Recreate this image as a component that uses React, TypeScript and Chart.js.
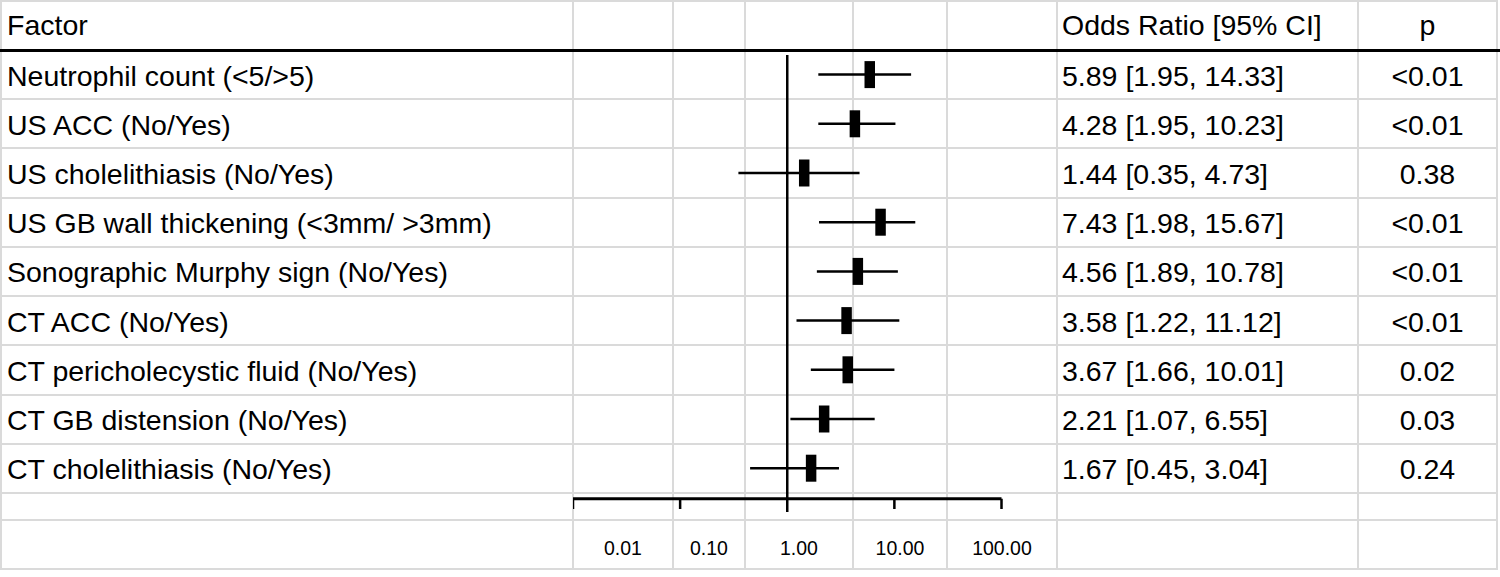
import { useEffect, useRef } from 'react';
import Chart from 'chart.js/auto';

// Table contents
const factors = [
  'Neutrophil count (<5/>5)',
  'US ACC (No/Yes)',
  'US cholelithiasis (No/Yes)',
  'US GB wall thickening (<3mm/ >3mm)',
  'Sonographic Murphy sign (No/Yes)',
  'CT ACC (No/Yes)',
  'CT pericholecystic fluid (No/Yes)',
  'CT GB distension (No/Yes)',
  'CT cholelithiasis (No/Yes)',
];
const oddsRatios = [5.89, 4.28, 1.44, 7.43, 4.56, 3.58, 3.67, 2.21, 1.67];
const ciLower = [1.95, 1.95, 0.35, 1.98, 1.89, 1.22, 1.66, 1.07, 0.45];
const ciUpper = [14.33, 10.23, 4.73, 15.67, 10.78, 11.12, 10.01, 6.55, 3.04];
const pValues = ['<0.01', '<0.01', '0.38', '<0.01', '<0.01', '<0.01', '0.02', '0.03', '0.24'];
const axisTicks = [0.01, 0.1, 1, 10, 100];

// Layout of the sheet grid (px)
const COLS = [1, 573, 673, 745, 853, 947, 1057, 1358, 1497];
const ROWS = [1, 50.5, 99.2, 148.4, 197.7, 246.9, 296.1, 345.3, 394.5, 443.7, 492.7, 520, 569];
const GRID = '#dadada';
const FONT = '"Liberation Sans", Arial, sans-serif';

// Plot area sits over columns 1..5 and rows 1..10
const PLOT_LEFT = 573;
const PLOT_TOP = 50;
const PLOT_W = 484;
const PLOT_H = 470;
const ROW_H = 49.2;
const PAD_RIGHT = 55.5;

// vertical positions in row units
const REF_TOP = -0.4;
const REF_BOTTOM = 8.89;
const AXIS_Y = 8.62;
const TICK_BOTTOM = 8.83;

type CellProps = {
  col: number;
  row: number;
  align?: 'left' | 'center';
  size?: number;
  pad?: number;
  dy?: number;
  children: React.ReactNode;
};

const Cell = ({ col, row, align = 'left', size = 28.5, pad = 5, dy = 0, children }: CellProps) => (
  <div
    style={{
      position: 'absolute',
      left: COLS[col],
      top: ROWS[row] + dy,
      width: COLS[col + 1] - COLS[col],
      height: ROWS[row + 1] - ROWS[row],
      display: 'flex',
      alignItems: 'center',
      justifyContent: align === 'center' ? 'center' : 'flex-start',
      paddingLeft: align === 'left' ? pad : 0,
      boxSizing: 'border-box',
      fontSize: size,
      whiteSpace: 'nowrap',
    }}
  >
    {children}
  </div>
);

const ForestPlot = () => {
  const chartRef = useRef<HTMLCanvasElement>(null);
  const chartInstance = useRef<Chart | null>(null);

  useEffect(() => {
    if (!chartRef.current) return;
    if (chartInstance.current) chartInstance.current.destroy();
    const ctx = chartRef.current.getContext('2d');
    if (!ctx) return;

    const rows = factors.map((_, i) => i);
    const lineBase = {
      type: 'line' as const,
      borderColor: '#000',
      pointRadius: 0,
      fill: false,
      clip: false as const,
    };

    const datasets: any[] = [
      // reference line at OR = 1
      { ...lineBase, data: [{ x: 1, y: REF_TOP }, { x: 1, y: REF_BOTTOM }], borderWidth: 2.5 },
      // axis baseline
      {
        ...lineBase,
        data: [
          { x: axisTicks[0], y: AXIS_Y },
          { x: axisTicks[axisTicks.length - 1], y: AXIS_Y },
        ],
        borderWidth: 3,
      },
      // axis ticks
      ...axisTicks
        .filter((v) => v !== 1)
        .map((v) => ({
          ...lineBase,
          data: [{ x: v, y: AXIS_Y }, { x: v, y: TICK_BOTTOM }],
          borderWidth: 2.5,
        })),
      // confidence intervals
      ...rows.map((i) => ({
        ...lineBase,
        data: [{ x: ciLower[i], y: i }, { x: ciUpper[i], y: i }],
        borderWidth: 2.5,
      })),
      // point estimates
      {
        type: 'scatter',
        data: rows.map((i) => ({ x: oddsRatios[i], y: i })),
        pointStyle: 'line',
        pointRotation: 90,
        pointRadius: 13.5,
        pointBorderWidth: 10.5,
        pointBorderColor: '#000',
        pointBackgroundColor: '#000',
        showLine: false,
        clip: false,
      },
    ];

    chartInstance.current = new Chart(ctx, {
      type: 'line',
      data: { datasets },
      options: {
        animation: false,
        responsive: true,
        maintainAspectRatio: false,
        events: [],
        layout: { autoPadding: false, padding: { left: 0, right: PAD_RIGHT, top: 0, bottom: 0 } },
        scales: {
          x: { type: 'logarithmic', min: axisTicks[0], max: axisTicks[axisTicks.length - 1], display: false },
          y: { type: 'linear', min: -0.5, max: -0.5 + PLOT_H / ROW_H, reverse: true, display: false },
        },
        plugins: {
          legend: { display: false },
          tooltip: { enabled: false },
        },
      },
    });

    return () => {
      if (chartInstance.current) {
        chartInstance.current.destroy();
        chartInstance.current = null;
      }
    };
  }, []);

  return (
    <div style={{ position: 'absolute', left: PLOT_LEFT, top: PLOT_TOP, width: PLOT_W, height: PLOT_H }}>
      <canvas ref={chartRef} />
    </div>
  );
};

const App = () => {
  const top = ROWS[0];
  const bottom = ROWS[ROWS.length - 1];
  const left = COLS[0];
  const right = COLS[COLS.length - 1];

  return (
    <div
      style={{
        position: 'fixed',
        left: 0,
        top: 0,
        width: 1500,
        height: 577,
        background: '#fff',
        color: '#000',
        fontFamily: FONT,
        overflow: 'hidden',
      }}
    >
      {/* grid */}
      {COLS.map((x, i) => (
        <div key={'c' + i} style={{ position: 'absolute', left: x - 1, top: top - 1, width: 2, height: bottom - top + 2, background: GRID }} />
      ))}
      {ROWS.map((y, i) => (
        <div key={'r' + i} style={{ position: 'absolute', left: left - 1, top: y - 1, width: right - left + 2, height: 2, background: GRID }} />
      ))}
      {/* header rule */}
      <div style={{ position: 'absolute', left: 0, top: 49, width: 1500, height: 3, background: '#000' }} />

      {/* header */}
      <Cell col={0} row={0} pad={6}>Factor</Cell>
      <Cell col={6} row={0}>Odds Ratio [95% CI]</Cell>
      <Cell col={7} row={0} align="center">p</Cell>

      {/* body */}
      {factors.map((f, i) => (
        <Cell key={'f' + i} col={0} row={i + 1} pad={6} dy={1.5}>{f}</Cell>
      ))}
      {factors.map((_, i) => (
        <Cell key={'o' + i} col={6} row={i + 1} dy={1.5}>
          {`${oddsRatios[i].toFixed(2)} [${ciLower[i].toFixed(2)}, ${ciUpper[i].toFixed(2)}]`}
        </Cell>
      ))}
      {pValues.map((p, i) => (
        <Cell key={'p' + i} col={7} row={i + 1} align="center" dy={1.5}>{p}</Cell>
      ))}

      {/* axis labels */}
      {axisTicks.map((t, i) => (
        <Cell key={'t' + i} col={i + 1} row={11} align="center" size={19.5} dy={4}>
          {t.toFixed(2)}
        </Cell>
      ))}

      <ForestPlot />
    </div>
  );
};

export default App;
